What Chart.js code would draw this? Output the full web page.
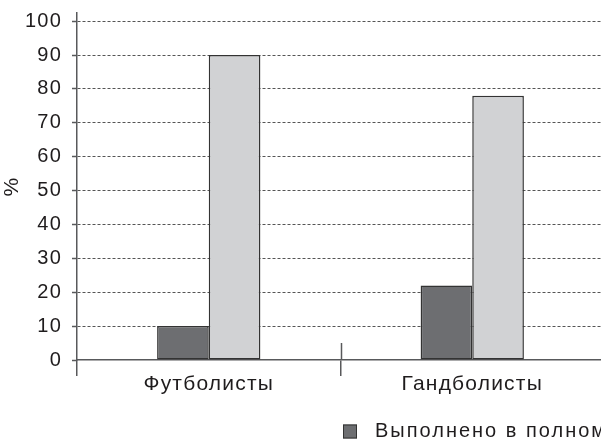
<!DOCTYPE html>
<html>
<head>
<meta charset="utf-8">
<script src="https://cdn.jsdelivr.net/npm/chart.js@4"></script>
<style>
  html, body { margin: 0; padding: 0; background: #fff; overflow: hidden; }
  #wrap { width: 601px; height: 441px; position: relative; overflow: hidden; }
</style>
</head>
<body>
<div id="wrap"><canvas id="c" width="605" height="441"></canvas></div>
<script>
// Groups of athletes and share (%) for each outcome
const categories = ['Футболисты', 'Гандболисты'];
const seriesNames = ['Выполнено в полном объеме', 'Выполнено не в полном объеме'];
const fullyDone = [10, 22];
const partlyDone = [90, 78];
const yTicks = [0, 10, 20, 30, 40, 50, 60, 70, 80, 90, 100];

const AXIS = '#58595b';
const TEXT = '#1f1c1d';
const FONT = '"Liberation Sans", Arial, sans-serif';
const TRACKING = '1.2px';

// Slightly widened letter tracking for the axis labels
const tracking = {
  id: 'tracking',
  beforeUpdate(chart) { chart.ctx.letterSpacing = TRACKING; },
  beforeDraw(chart) { chart.ctx.letterSpacing = TRACKING; }
};

// Short upward marks at the category boundaries on the x axis,
// plus a legend drawn at the bottom right that runs off the edge.
const extras = {
  id: 'extras',
  afterDraw(chart) {
    const ctx = chart.ctx;
    const x = chart.scales.x;
    const area = chart.chartArea;
    ctx.save();
    ctx.strokeStyle = AXIS;
    ctx.lineWidth = 1.5;
    for (let i = 1; i < categories.length; i++) {
      const bx = Math.round((x.getPixelForValue(i - 1) + x.getPixelForValue(i)) / 2) + 0.5;
      ctx.beginPath();
      ctx.moveTo(bx, area.bottom - 17);
      ctx.lineTo(bx, area.bottom);
      ctx.stroke();
    }
    // legend
    ctx.letterSpacing = '2px';
    ctx.font = '20px ' + FONT;
    ctx.textBaseline = 'middle';
    let lx = 343;
    const ly = 431.5;
    chart.data.datasets.forEach(ds => {
      ctx.fillStyle = ds.backgroundColor;
      ctx.fillRect(lx, ly - 7, 14, 14);
      ctx.strokeStyle = '#333';
      ctx.lineWidth = 1;
      ctx.strokeRect(lx + 0.5, ly - 6.5, 13, 13);
      ctx.fillStyle = TEXT;
      ctx.fillText(ds.label, lx + 32, ly);
      lx += 32 + ctx.measureText(ds.label).width + 30;
    });
    ctx.restore();
  }
};

new Chart(document.getElementById('c'), {
  type: 'bar',
  data: {
    labels: categories,
    datasets: [
      {
        label: seriesNames[0],
        data: fullyDone,
        backgroundColor: '#6d6e71',
        borderColor: '#333333',
        borderWidth: 1.5,
        borderSkipped: false
      },
      {
        label: seriesNames[1],
        data: partlyDone,
        backgroundColor: '#d1d2d4',
        borderColor: '#333333',
        borderWidth: 1.5,
        borderSkipped: false
      }
    ]
  },
  options: {
    responsive: false,
    animation: false,
    devicePixelRatio: 1,
    layout: { padding: { top: 13, right: 1, left: 0, bottom: 0 } },
    datasets: { bar: { categoryPercentage: 0.392, barPercentage: 1 } },
    plugins: {
      legend: { display: false },
      tooltip: { enabled: false }
    },
    scales: {
      x: {
        offset: true,
        afterFit: s => { s.height = 81; s.paddingLeft = 0; s.paddingRight = 0; },
        grid: {
          offset: true,
          drawOnChartArea: false,
          drawTicks: true,
          tickLength: 16,
          color: AXIS,
          lineWidth: 1.5
        },
        border: { display: true, color: AXIS, width: 1.5 },
        ticks: {
          color: TEXT,
          padding: -4,
          font: { family: FONT, size: 21 }
        }
      },
      y: {
        min: 0,
        max: 102.4,
        afterFit: s => { s.width = 77; s.paddingTop = 0; s.paddingBottom = 0; },
        afterBuildTicks: s => { s.ticks = yTicks.map(v => ({ value: v })); },
        title: {
          display: true,
          text: '%',
          color: TEXT,
          padding: { top: 0, bottom: 0 },
          font: { family: FONT, size: 21 }
        },
        grid: {
          color: ctx => (ctx.tick && ctx.tick.value === 0) ? 'rgba(0,0,0,0)' : '#555',
          tickColor: AXIS,
          lineWidth: 1,
          tickWidth: 1.5,
          tickLength: 5,
          tickBorderDash: []
        },
        border: { display: true, color: AXIS, width: 1.5, dash: [3, 2] },
        ticks: {
          color: TEXT,
          padding: 10,
          stepSize: 10,
          includeBounds: false,
          font: { family: FONT, size: 20 }
        }
      }
    }
  },
  plugins: [tracking, extras]
});
</script>
</body>
</html>
